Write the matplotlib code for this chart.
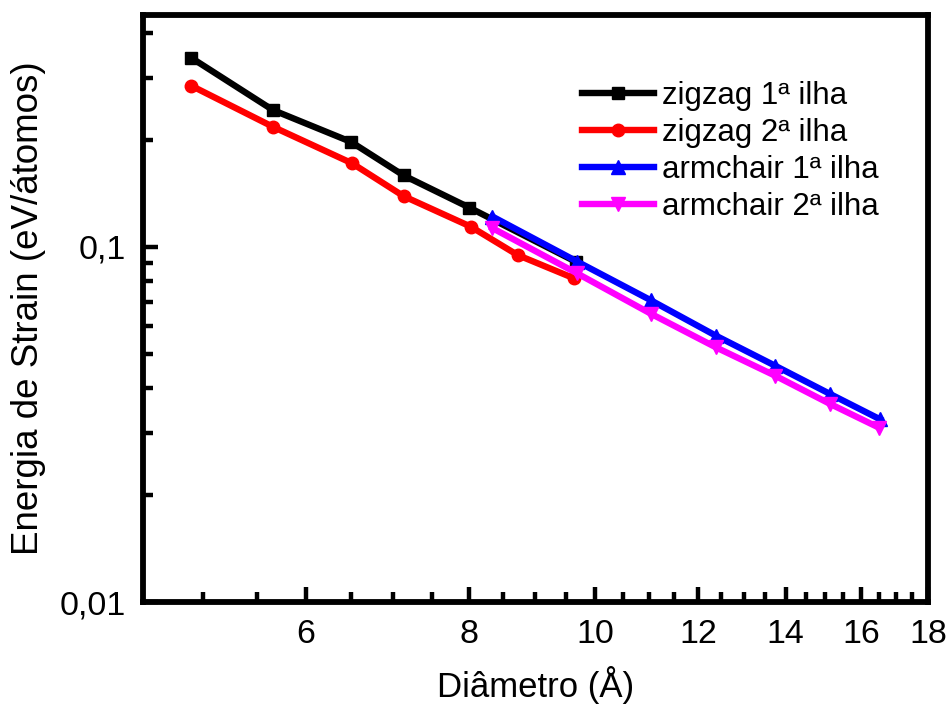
import matplotlib
matplotlib.use('Agg')
import matplotlib.pyplot as plt
import numpy as np
from matplotlib.ticker import FixedLocator, FuncFormatter, LogLocator, NullFormatter

plt.rcParams['font.family'] = ['Liberation Sans', 'DejaVu Sans']

# dados
zz1_d = [4.90, 5.66, 6.50, 7.13, 8.01, 9.66]
zz1_e = [0.341, 0.243, 0.1975, 0.159, 0.129, 0.0909]

zz2_d = [4.90, 5.66, 6.51, 7.13, 8.03, 8.72, 9.64]
zz2_e = [0.2845, 0.218, 0.172, 0.139, 0.114, 0.0949, 0.0815]

ac1_d = [8.34, 9.69, 11.03, 12.37, 13.74, 15.15, 16.54]
ac1_e = [0.1218, 0.0909, 0.0708, 0.0563, 0.0463, 0.0385, 0.0327]

ac2_d = [8.34, 9.69, 11.03, 12.37, 13.74, 15.15, 16.50]
ac2_e = [0.113, 0.0842, 0.0649, 0.0522, 0.0434, 0.0361, 0.031]

fig = plt.figure(figsize=(9.5, 7.07), dpi=100)
ax = fig.add_axes([0.1505, 0.1485, 0.8263, 0.8303])

lw = 4.6
ax.plot(zz1_d, zz1_e, '-s', color='black', lw=lw, ms=8, label='zigzag 1ª ilha')
ax.plot(zz2_d, zz2_e, '-o', color='red', lw=lw, ms=9, label='zigzag 2ª ilha')
ax.plot(ac1_d, ac1_e, '-^', color='blue', lw=lw, ms=10, label='armchair 1ª ilha')
ax.plot(ac2_d, ac2_e, '-v', color='magenta', lw=lw, ms=10, label='armchair 2ª ilha')

ax.set_xscale('log')
ax.set_yscale('log')
ax.set_xlim(4.5, 18)
ax.set_ylim(0.01, 0.45)

ax.xaxis.set_major_locator(FixedLocator([6, 8, 10, 12, 14, 16, 18]))
ax.xaxis.set_minor_locator(FixedLocator([v for v in np.arange(5, 18, 0.5) if v % 2 != 0]))
ax.xaxis.set_major_formatter(FuncFormatter(lambda v, p: '%d' % round(v)))
ax.xaxis.set_minor_formatter(NullFormatter())

ax.yaxis.set_major_locator(FixedLocator([0.01, 0.1]))
ax.yaxis.set_minor_locator(LogLocator(base=10, subs=np.arange(2, 10)))
ax.yaxis.set_major_formatter(FuncFormatter(lambda v, p: ('%g' % v).replace('.', ',')))
ax.yaxis.set_minor_formatter(NullFormatter())

for s in ax.spines.values():
    s.set_linewidth(4.2)
ax.tick_params(which='both', direction='in', top=False, right=False, labelsize=24.5, width=3.2, pad=12)
ax.tick_params(which='major', length=11)
ax.tick_params(which='minor', length=7)

ax.set_xlabel('Diâmetro (Å)', fontsize=25, labelpad=12)
ax.set_ylabel('Energia de Strain (eV/átomos)', fontsize=26.5, labelpad=10)

ax.legend(loc='upper right', frameon=False, fontsize=22.5, handlelength=2.3,
          handletextpad=0.25, labelspacing=0.22, borderaxespad=0.8,
          bbox_to_anchor=(0.985, 0.951))

fig.savefig('out.png', dpi=100)
